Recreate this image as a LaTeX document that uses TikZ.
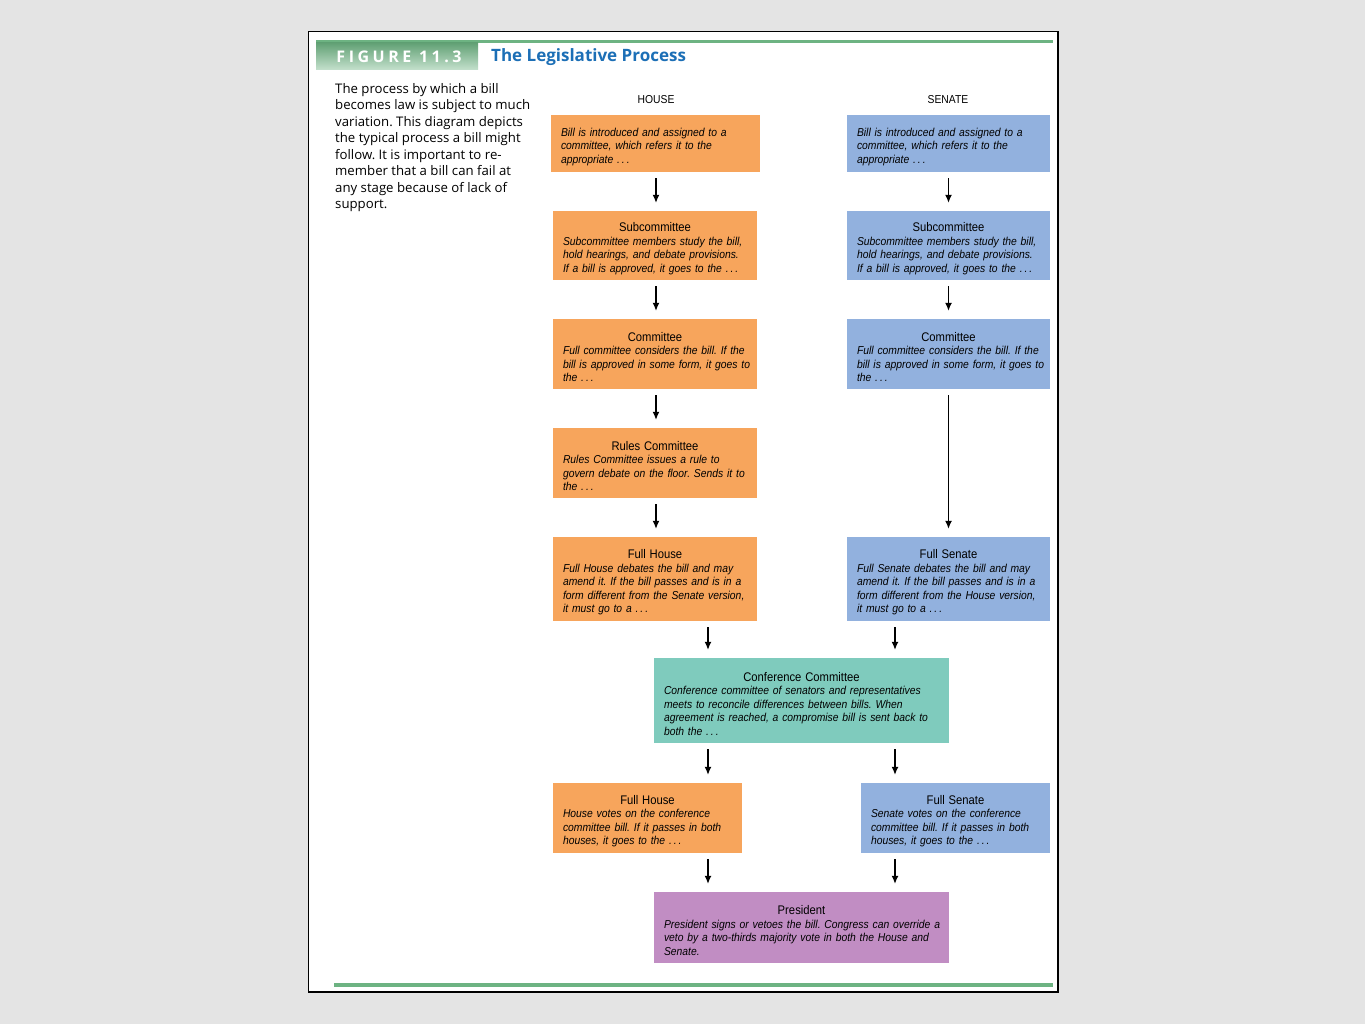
\documentclass[tikz,border=0pt]{standalone}
\usepackage{fontspec}
\setmainfont{Liberation Sans}
\newfontfamily\narrowfont[FakeStretch=0.9]{Liberation Sans}
\newfontfamily\bodyfont{Open Sans}
\newfontfamily\figfont[LetterSpace=22]{Open Sans}
\usetikzlibrary{arrows.meta,positioning}
\frenchspacing

\definecolor{housecol}{HTML}{F7A55C}
\definecolor{senatecol}{HTML}{92B1DE}
\definecolor{confcol}{HTML}{7FCBBD}
\definecolor{prescol}{HTML}{C18DC3}
\definecolor{rulegreen}{HTML}{6DB382}
\definecolor{titleblue}{HTML}{1C6FB6}
\definecolor{paper}{HTML}{E4E4E4}

% box text: centred heading, then italic body (lines may run into the padding)
\newcommand{\etc}{\ .\thinspace.\thinspace.}
\newcommand{\looseright}{\rightskip=0pt plus 1fil minus 100pt\linepenalty=1000 }
\newcommand{\stagebody}[1]{\raggedright\looseright\itshape\rule{0pt}{15pt}#1}
\newcommand{\stagetext}[2]{\centering\rule{0pt}{15.5pt}{\fontsize{12.5}{13.5}\selectfont #1}\par
  \raggedright\looseright\itshape #2}

\tikzset{
  stage/.style={inner xsep=10pt, inner ysep=2pt,
    font=\narrowfont\fontsize{11.5}{13.5}\selectfont},
  housebox/.style={stage, fill=housecol, text width=184pt, minimum height=70pt},
  senatebox/.style={stage, fill=senatecol, text width=183pt, minimum height=70pt},
  widebox/.style={stage, text width=275pt},
  lowbox/.style={stage, text width=169pt, minimum height=70pt},
  chamber/.style={font=\narrowfont\fontsize{11.5}{13}\selectfont},
  flow/.style={draw, line width=1.2pt, -{Latex[length=8pt,width=7pt]},
    shorten <=6pt, shorten >=8pt}
}

\begin{document}
\begin{tikzpicture}[x=1pt,y=-1pt]
  \useasboundingbox (0,0) rectangle (1365,1024);
  \fill[paper] (0,0) rectangle (1365,1024);

  % page
  \draw[line width=1.5pt, fill=white] (308.5,31.5) rectangle (1058,992);
  \fill[rulegreen] (316,40) rectangle (1053,43);
  \shade[top color=rulegreen!90!black, bottom color=rulegreen!40] (316,43) rectangle (478,70);
  \node[text=white, font=\figfont\bfseries\fontsize{16}{16}\selectfont] (fig) at (399,57) {FIGURE 11.3};
  \node[text=titleblue, font=\bodyfont\bfseries\fontsize{17}{17}\selectfont, anchor=west, inner sep=0] (title) at (491,57.5) {The Legislative Process};
  \fill[rulegreen] (334,983) rectangle (1053,987);

  \node[anchor=north west, inner sep=0, align=left,
    font=\bodyfont\fontsize{13.2}{16.5}\selectfont] (intro) at (335,83)
    {The process by which a bill\\ becomes law is subject to much\\
     variation. This diagram depicts\\ the typical process a bill might\\
     follow. It is important to re-\\ member that a bill can fail at\\
     any stage because of lack of\\ support.};

  \node[chamber] (house) at (656,100) {HOUSE};
  \node[chamber] (senate) at (948,100) {SENATE};

  % house column
  \node[housebox, text width=189pt, minimum height=57pt] (h1) at (655.5,143.5)
    {\stagebody{Bill is introduced and assigned to a\\ committee, which refers it to the\\ appropriate\etc}};
  \node[housebox, minimum height=69pt] (h2) at (655,245.5)
    {\stagetext{Subcommittee}{Subcommittee members study the bill,\\ hold hearings, and debate provisions.\\ If a bill is approved, it goes to the\etc}};
  \node[housebox] (h3) at (655,354)
    {\stagetext{Committee}{Full committee considers the bill. If the\\ bill is approved in some form, it goes to\\ the\etc}};
  \node[housebox] (h4) at (655,463)
    {\stagetext{Rules Committee}{Rules Committee issues a rule to\\ govern debate on the floor. Sends it to\\ the\etc}};
  \node[housebox, minimum height=84pt] (h5) at (655,579)
    {\stagetext{Full House}{Full House debates the bill and may\\ amend it. If the bill passes and is in a\\ form different from the Senate version,\\ it must go to a\etc}};

  % senate column
  \node[senatebox, minimum height=57pt] (s1) at (948.5,143.5)
    {\stagebody{Bill is introduced and assigned to a\\ committee, which refers it to the\\ appropriate\etc}};
  \node[senatebox, minimum height=69pt] (s2) at (948.5,245.5)
    {\stagetext{Subcommittee}{Subcommittee members study the bill,\\ hold hearings, and debate provisions.\\ If a bill is approved, it goes to the\etc}};
  \node[senatebox] (s3) at (948.5,354)
    {\stagetext{Committee}{Full committee considers the bill. If the\\ bill is approved in some form, it goes to\\ the\etc}};
  \node[senatebox, minimum height=84pt] (s5) at (948.5,579)
    {\stagetext{Full Senate}{Full Senate debates the bill and may\\ amend it. If the bill passes and is in a\\ form different from the House version,\\ it must go to a\etc}};

  % joint stages
  \node[widebox, fill=confcol, minimum height=85pt] (conf) at (801.5,700.5)
    {\stagetext{Conference Committee}{Conference committee of senators and representatives\\ meets to reconcile differences between bills. When\\ agreement is reached, a compromise bill is sent back to\\ both the\etc}};
  \node[lowbox, fill=housecol] (fh) at (647.5,818)
    {\stagetext{Full House}{House votes on the conference\\ committee bill. If it passes in both\\ houses, it goes to the\etc}};
  \node[lowbox, fill=senatecol] (fs) at (955.5,818)
    {\stagetext{Full Senate}{Senate votes on the conference\\ committee bill. If it passes in both\\ houses, it goes to the\etc}};
  \node[widebox, fill=prescol, minimum height=71pt] (pres) at (801.5,927.5)
    {\stagetext{President}{President signs or vetoes the bill. Congress can override a\\ veto by a two-thirds majority vote in both the House and\\ Senate.}};

  \coordinate (hx) at (708,0);
  \coordinate (sx) at (895,0);

  % arrows
  \draw[flow] (h1.south -| house) -- (h2.north -| house);
  \draw[flow] (h2.south -| house) -- (h3.north -| house);
  \draw[flow] (h3.south -| house) -- (h4.north -| house);
  \draw[flow] (h4.south -| house) -- (h5.north -| house);
  \draw[flow] (s1) -- (s2);
  \draw[flow] (s2) -- (s3);
  \draw[flow] (s3) -- (s5);
  \draw[flow] (h5.south -| hx) -- (conf.north -| hx);
  \draw[flow] (s5.south -| sx) -- (conf.north -| sx);
  \draw[flow] (conf.south -| hx) -- (fh.north -| hx);
  \draw[flow] (conf.south -| sx) -- (fs.north -| sx);
  \draw[flow] (fh.south -| hx) -- (pres.north -| hx);
  \draw[flow] (fs.south -| sx) -- (pres.north -| sx);
\end{tikzpicture}
\end{document}
